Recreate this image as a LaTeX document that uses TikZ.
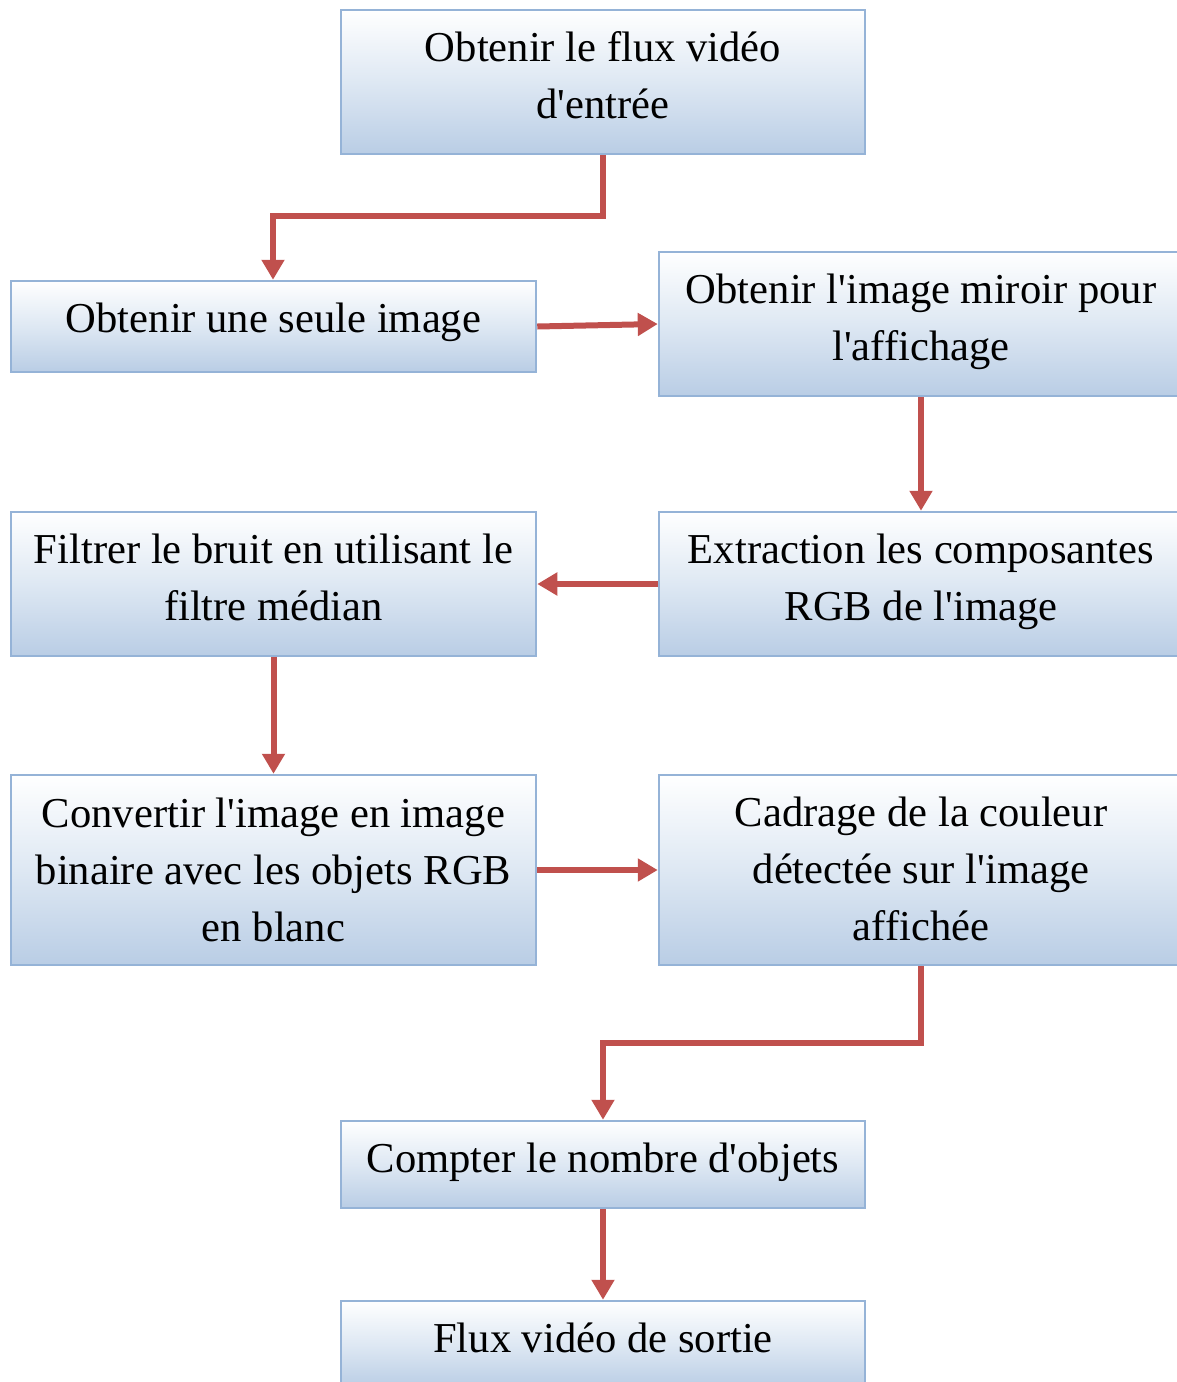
\documentclass[tikz,border=0pt]{standalone}
\usepackage{fontspec}
\setmainfont{Liberation Serif}[Ligatures=TeXOff]
\usetikzlibrary{arrows.meta}
\definecolor{boxborder}{RGB}{149,179,215}
\definecolor{boxbottom}{RGB}{185,205,229}
\definecolor{boxmid}{RGB}{222,232,243}
\definecolor{arrowred}{RGB}{192,80,77}
\begin{document}
\begin{tikzpicture}[x=1pt,y=-1pt,
  flowbox/.style={draw=boxborder, line width=2.5pt, top color=white, bottom color=boxbottom, middle color=boxmid,
    minimum width=524pt, inner sep=0pt},
  boxtext/.style={inner sep=0pt, align=center, font=\fontsize{42.6}{57}\selectfont},
  flowarrow/.style={draw=arrowred, line width=6pt, -{Triangle[width=22pt,length=20pt]}}]
\useasboundingbox (0,0) rectangle (1176,1382);
\node[flowbox, minimum height=144pt] (b1) at (603,82) {};
\node[flowbox, minimum height=91pt, minimum width=525pt] (b2) at (273.5,326.5) {};
\node[flowbox, minimum height=144pt] (b3) at (921,324) {};
\node[flowbox, minimum height=144pt, minimum width=525pt] (b4) at (273.5,584) {};
\node[flowbox, minimum height=144pt] (b5) at (921,584) {};
\node[flowbox, minimum height=190pt, minimum width=525pt] (b6) at (273.5,870) {};
\node[flowbox, minimum height=190pt] (b7) at (921,870) {};
\node[flowbox, minimum height=87pt] (b8) at (603,1164.5) {};
\node[flowbox, minimum height=87pt] (b9) at (603,1344.5) {};
\node[boxtext] (t1) at ([yshift=7pt]b1.center) {Obtenir le flux vidéo\\d'entrée};
\node[boxtext] (t2) at ([yshift=4pt]b2.center) {Obtenir une seule image};
\node[boxtext] (t3) at ([yshift=2pt]b3.center) {Obtenir l'image miroir pour\\l'affichage};
\node[boxtext] (t4) at ([yshift=7pt]b4.center) {Filtrer le bruit en utilisant le\\filtre médian};
\node[boxtext] (t5) at ([yshift=2pt]b5.center) {Extraction les composantes\\RGB de l'image};
\node[boxtext] (t6) at (b6.center) {Convertir l'image en image\\binaire avec les objets RGB\\en blanc};
\node[boxtext] (t7) at ([yshift=1pt]b7.center) {Cadrage de la couleur\\détectée sur l'image\\affichée};
\node[boxtext] (t8) at ([yshift=2pt]b8.center) {Compter le nombre d'objets};
\node[boxtext, text height=30pt, text depth=10pt] (t9) at ([yshift=2pt]b9.center) {Flux vidéo de sortie};
\coordinate (k1) at (603,216);
\coordinate (k2) at (273,216);
\coordinate (k3) at (921,1043);
\coordinate (k4) at (603,1043);
\draw[flowarrow] (b1.south) -- (k1) -- (k2) -- (b2.north -| k2);
\draw[flowarrow] (b2.east) -- (b3.west);
\draw[flowarrow] (b3.south) -- (b5.north);
\draw[flowarrow] (b5.west) -- (b4.east);
\draw[flowarrow] (b4.south) -- (b6.north);
\draw[flowarrow] (b6.east) -- (b7.west);
\draw[flowarrow] (b7.south) -- (k3) -- (k4) -- (b8.north);
\draw[flowarrow] (b8.south) -- (b9.north);
\end{tikzpicture}
\end{document}
